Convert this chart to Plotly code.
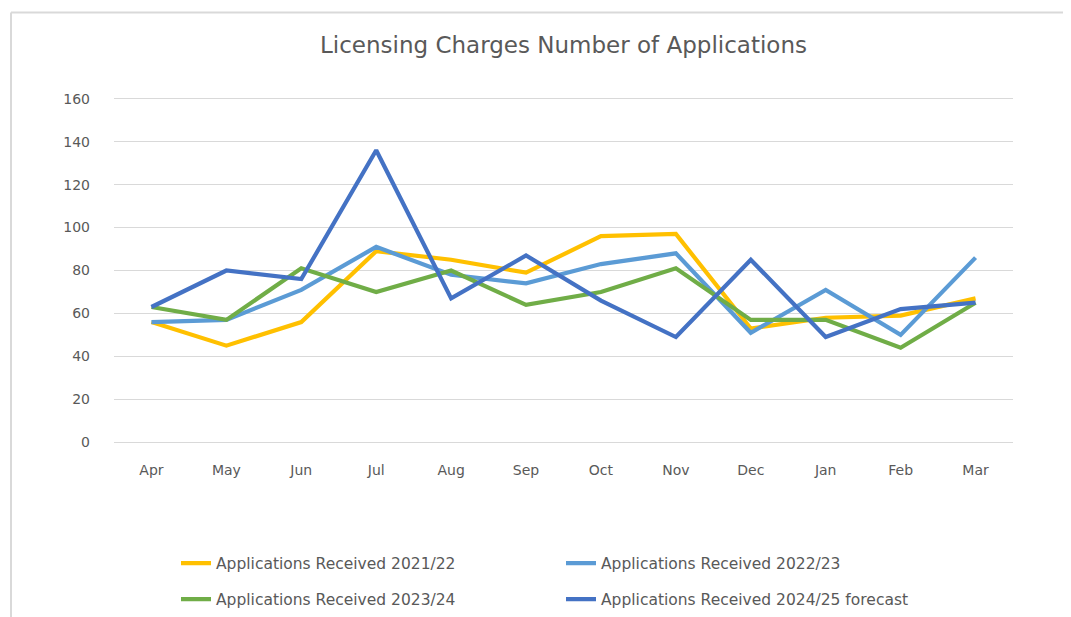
import plotly.graph_objects as go

months = ["Apr", "May", "Jun", "Jul", "Aug", "Sep", "Oct", "Nov", "Dec", "Jan", "Feb", "Mar"]
apps_2021_22 = [56, 45, 56, 89, 85, 79, 96, 97, 53, 58, 59, 67]
apps_2022_23 = [56, 57, 71, 91, 78, 74, 83, 88, 51, 71, 50, 86]
apps_2023_24 = [63, 57, 81, 70, 80, 64, 70, 81, 57, 57, 44, 65]
apps_2024_25 = [63, 80, 76, 136, 67, 87, 66, 49, 85, 49, 62, 65]

series_names = [
    "Applications Received 2021/22",
    "Applications Received 2022/23",
    "Applications Received 2023/24",
    "Applications Received 2024/25 forecast",
]
series_values = [apps_2021_22, apps_2022_23, apps_2023_24, apps_2024_25]
colors = ["#FFC000", "#5B9BD5", "#70AD47", "#4472C4"]
legend_rows = ["legend", "legend", "legend2", "legend2"]

y_ticks = [0, 20, 40, 60, 80, 100, 120, 140, 160]

fig = go.Figure()
for name, vals, col, lg in zip(series_names, series_values, colors, legend_rows):
    fig.add_trace(go.Scatter(
        x=months, y=vals, name=name, mode="lines",
        line=dict(color=col, width=4.2), legend=lg,
    ))

OFF = 8  # page body margin
PAD = 1.7  # extra px so edge gridlines are kept
W, H = 1071 - OFF, 617 - OFF
ml, mr, mt, mb = 114 - OFF, 58, 99 - OFF - PAD, 175 - PAD
pw, ph = W - ml - mr, H - mt - mb


def px_x(x):
    return (x - OFF - ml) / pw


def px_y(y):
    return (H - mb - (y - OFF)) / ph


legend_common = dict(
    orientation="h",
    x=px_x(176), xanchor="left",
    entrywidth=340, entrywidthmode="pixels",
    font=dict(size=15.5, color="#595959", family="DejaVu Sans"),
    itemwidth=30,
    bgcolor="rgba(0,0,0,0)",
)

fig.update_layout(
    width=W, height=H,
    margin=dict(l=ml, r=mr, t=mt, b=mb, autoexpand=False),
    paper_bgcolor="white", plot_bgcolor="white",
    font=dict(family="DejaVu Sans", color="#595959"),
    title=dict(
        text="Licensing Charges Number of Applications",
        x=0.5, xanchor="center", xref="paper",
        y=1 - (45 - OFF) / H, yanchor="middle", yref="container",
        font=dict(size=23, color="#595959", family="DejaVu Sans"),
    ),
    xaxis=dict(
        type="category", range=[-0.5, 11.5],
        showgrid=False, showline=False, zeroline=False,
        ticks="", tickfont=dict(size=14, color="#595959"),
        ticklabelstandoff=16,
    ),
    yaxis=dict(
        range=[-0.8, 160.8], tickvals=y_ticks,
        showgrid=True, gridcolor="#D9D9D9", gridwidth=1.3,
        zeroline=False, showline=False, ticks="",
        tickfont=dict(size=14, color="#595959"),
        ticklabelstandoff=23,
    ),
    legend=dict(legend_common, y=px_y(546), yanchor="top"),
    legend2=dict(legend_common, y=px_y(582), yanchor="top"),
    showlegend=True,
    shapes=[
        dict(type="line", xref="paper", yref="paper",
             x0=px_x(11), x1=px_x(1071), y0=px_y(13), y1=px_y(13),
             line=dict(color="#D9D9D9", width=2)),
        dict(type="line", xref="paper", yref="paper",
             x0=px_x(11), x1=px_x(11), y0=px_y(13), y1=px_y(617),
             line=dict(color="#D9D9D9", width=2)),
    ],
)

fig.write_html("out.html")
